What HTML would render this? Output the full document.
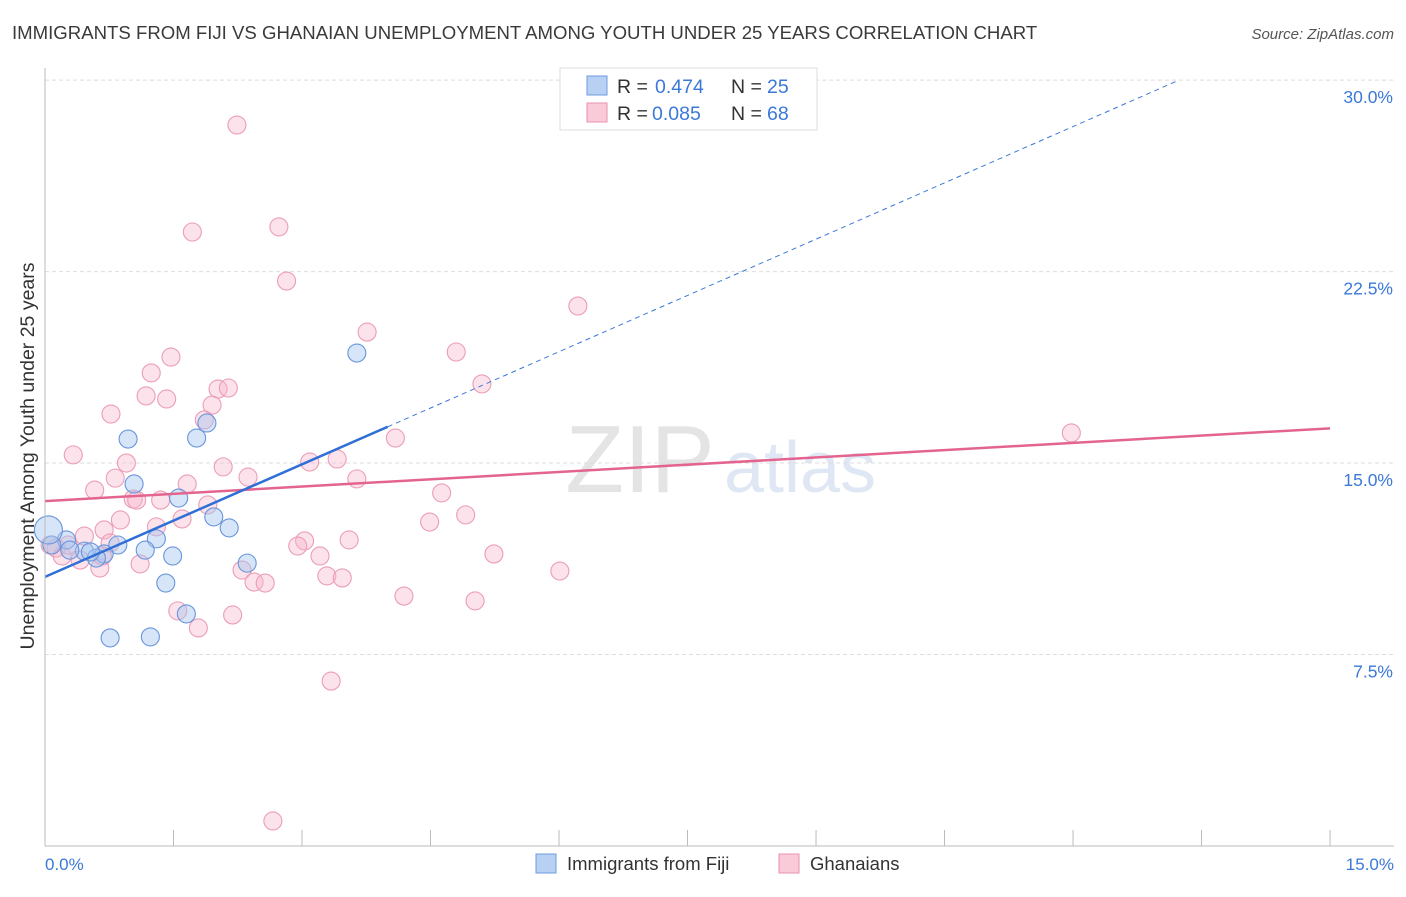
<!DOCTYPE html>
<html><head><meta charset="utf-8"><style>
body{margin:0;background:#fff;font-family:"Liberation Sans",sans-serif;}
svg text{font-family:"Liberation Sans",sans-serif;}
</style></head><body>
<svg id="c" width="1406" height="892">
<text x="12" y="39" font-size="18.6" fill="#3a3a3a">IMMIGRANTS FROM FIJI VS GHANAIAN UNEMPLOYMENT AMONG YOUTH UNDER 25 YEARS CORRELATION CHART</text>
<text x="1394" y="39" font-size="15" fill="#555" font-style="italic" text-anchor="end">Source: ZipAtlas.com</text>
<text x="640" y="492" font-size="96" fill="#e4e4e4" font-family="Liberation Serif" text-anchor="middle">ZIP</text>
<text x="800" y="492" font-size="72" fill="#dfe7f4" text-anchor="middle">atlas</text>
<g id="grid"></g><g id="pts"></g><g id="lines"></g>
<line x1="45" y1="68" x2="45" y2="846" stroke="#bbb"/>
<line x1="45" y1="846" x2="1394" y2="846" stroke="#bbb"/>
<text x="34" y="456" font-size="19.5" fill="#333" text-anchor="middle" transform="rotate(-90 34 456)">Unemployment Among Youth under 25 years</text>
<text x="45" y="870" font-size="17" fill="#3b78d8">0.0%</text>
<text x="1394" y="870" font-size="17" fill="#3b78d8" text-anchor="end">15.0%</text>
<g>
<rect x="560" y="68" width="257" height="62" fill="#fff" stroke="#ddd"/>
<rect x="587" y="76" width="20" height="19" fill="#b8d1f3" stroke="#6d9be0"/>
<rect x="587" y="103" width="20" height="19" fill="#fbcad8" stroke="#ea93ae"/>
<text x="617" y="93" font-size="19.5" fill="#333">R =</text>
<text x="655" y="93" font-size="19.5" fill="#3b78d8">0.474</text>
<text x="731" y="93" font-size="19.5" fill="#333">N =</text>
<text x="767" y="93" font-size="19.5" fill="#3b78d8">25</text>
<text x="617" y="120" font-size="19.5" fill="#333">R =</text>
<text x="652" y="120" font-size="19.5" fill="#3b78d8">0.085</text>
<text x="731" y="120" font-size="19.5" fill="#333">N =</text>
<text x="767" y="120" font-size="19.5" fill="#3b78d8">68</text>
</g>
<g>
<rect x="536" y="854" width="20" height="19" fill="#b8d1f3" stroke="#6d9be0"/>
<text x="567" y="870" font-size="18.5" fill="#333">Immigrants from Fiji</text>
<rect x="779" y="854" width="20" height="19" fill="#fbcad8" stroke="#ea93ae"/>
<text x="810" y="870" font-size="18.5" fill="#333">Ghanaians</text>
</g>
</svg>
<script>
const yTicks=[7.5,15,22.5,30];
const yTickLabels=["7.5%","15.0%","22.5%","30.0%"];
const xTicks=[0,1.5,3,4.5,6,7.5,9,10.5,12,13.5,15];
const fijiX=[0.97,1.77,1.89,1.04,1.56,1.97,2.15,1.30,0.85,1.17,1.49,0.69,0.46,0.60,0.25,0.08,0.04,2.36,1.41,1.65,0.76,1.23,3.64,0.29,0.53];
const fijiY=[15.94,15.98,16.57,14.18,13.63,12.89,12.46,12.03,11.79,11.59,11.36,11.44,11.55,11.28,11.99,11.79,12.38,11.08,10.30,9.09,8.15,8.19,19.31,11.59,11.52];
const ghX=[2.24,1.72,2.73,2.82,6.22,3.76,4.80,1.47,1.24,5.10,2.02,2.14,1.18,1.42,0.77,1.95,1.86,4.09,0.33,0.95,3.41,3.09,2.08,2.37,3.64,0.82,0.58,1.66,1.03,1.35,1.07,4.63,1.90,4.91,0.88,1.60,4.49,1.30,0.69,0.46,0.76,3.03,3.55,5.24,2.95,0.13,0.20,3.21,1.11,2.30,6.01,0.64,3.29,3.47,2.44,2.57,4.19,5.02,1.55,2.19,1.79,3.34,2.66,11.98,0.06,0.27,0.41,0.67];
const ghY=[28.24,24.05,24.25,22.13,21.15,20.13,19.35,19.15,18.53,18.10,17.90,17.94,17.63,17.51,16.92,17.27,16.69,15.98,15.32,15.00,15.16,15.04,14.85,14.45,14.38,14.41,13.94,14.18,13.59,13.55,13.55,13.83,13.36,12.97,12.77,12.81,12.69,12.50,12.38,12.14,11.87,11.95,11.99,11.44,11.75,11.67,11.36,11.36,11.05,10.81,10.77,10.89,10.58,10.50,10.34,10.30,9.79,9.60,9.21,9.05,8.54,6.46,0.98,16.18,11.79,11.79,11.20,11.36];
const fijiTrend=[10.54,1.47];
const ghTrend=[13.51,0.19];
const NS='http://www.w3.org/2000/svg';
const sx=v=>45+v*85.67, sy=v=>846-v*25.53;
function mk(t,a,p){const e=document.createElementNS(NS,t);for(const k in a)e.setAttribute(k,a[k]);p.appendChild(e);return e;}
const grid=document.getElementById('grid');
yTicks.forEach((t,i)=>{
 const l=mk('line',{x1:45,x2:1394,y1:sy(t),y2:sy(t),stroke:'#ddd','stroke-dasharray':'4,3'},grid);
 
 
 const tx=mk('text',{x:1393,y:sy(t)+23,'font-size':17.5,fill:'#3b78d8','text-anchor':'end'},grid);
 tx.textContent=yTickLabels[i];
 
 
});
xTicks.forEach(t=>{
 const l=mk('line',{x1:sx(t),x2:sx(t),y1:830,y2:846,stroke:'#bbb'},grid);
 
 
});
const pts=document.getElementById('pts');
ghX.forEach((x,i)=>{
 const c=mk('circle',{cx:sx(x),cy:sy(ghY[i]),r:9,fill:'rgba(248,182,204,0.4)',stroke:'#eb9db7','stroke-width':1.1},pts);
 
 
});
fijiX.forEach((x,i)=>{
 const c=mk('circle',{cx:sx(x),cy:sy(fijiY[i]),r:i==16?14:9,fill:'rgba(165,198,240,0.45)',stroke:'#6895dc','stroke-width':1.1},pts);
 
 
});
const lines=document.getElementById('lines');
const f=x=>fijiTrend[0]+fijiTrend[1]*x, g=x=>ghTrend[0]+ghTrend[1]*x;
let l1=mk('line',{x1:sx(0),y1:sy(g(0)),x2:sx(15),y2:sy(g(15)),stroke:'#e2648f','stroke-width':2.5},lines);


let xe=(30-fijiTrend[0])/fijiTrend[1];
let l2=mk('line',{x1:sx(4.0),y1:sy(f(4.0)),x2:sx(xe),y2:sy(30),stroke:'#3b78d8','stroke-width':1,'stroke-dasharray':'5,4'},lines);


let l3=mk('line',{x1:sx(0),y1:sy(f(0)),x2:sx(4.0),y2:sy(f(4.0)),stroke:'#2f6fd6','stroke-width':2.5},lines);


</script>
</body></html>
